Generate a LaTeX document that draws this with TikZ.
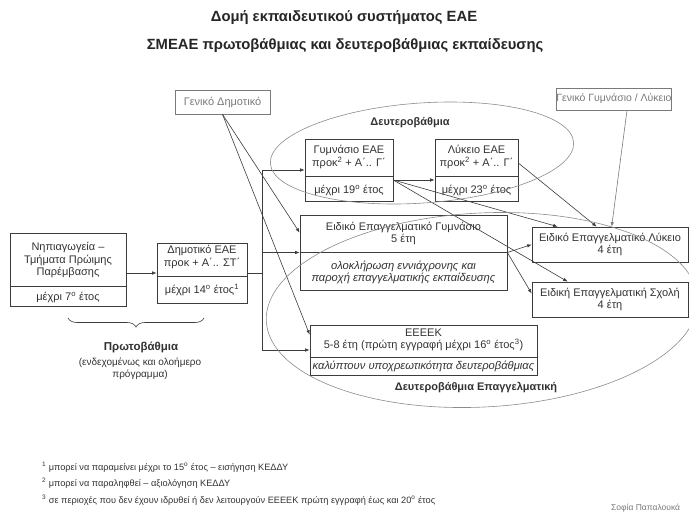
\documentclass[tikz,border=0pt]{standalone}
\usepackage{fontspec}
\setmainfont{Liberation Sans}
\usetikzlibrary{arrows.meta,calc,decorations.pathreplacing}
\definecolor{txt}{HTML}{333333}
\definecolor{ln}{HTML}{3C3C3C}
\definecolor{lgray}{HTML}{7A7A7A}
\definecolor{ellc}{HTML}{8C8C8C}
\begin{document}
\begin{tikzpicture}[x=1pt,y=-1pt,
  box/.style={draw=ln,line width=0.7pt,fill=white,inner sep=0pt},
  gbox/.style={draw=lgray,line width=0.7pt,fill=white,inner sep=0pt,text=lgray,font=\fontsize{10.5}{12}\selectfont},
  lbl/.style={text=txt,font=\fontsize{11}{12.5}\selectfont,align=center,inner sep=0pt},
  ilbl/.style={text=txt,font=\fontsize{11.2}{12}\selectfont\itshape,align=center,inner sep=0pt},
  ttl/.style={text=black!85,font=\fontsize{14.8}{17}\selectfont\bfseries,inner sep=0pt},
  blbl/.style={text=txt,font=\fontsize{11}{13}\selectfont\bfseries,inner sep=0pt},
  fn/.style={text=txt,font=\fontsize{9.2}{11}\selectfont,anchor=west,inner sep=0pt},
  con/.style={draw=ln,line width=0.6pt},
  arr/.style={draw=ln,line width=0.6pt,-{Latex[length=4.5pt,width=3.5pt]}},
  garr/.style={draw=lgray,line width=0.6pt,-{Latex[length=4.5pt,width=3.5pt]}},
  sep/.style={draw=ln,line width=0.7pt},
  ellipsecurve/.style={draw=ellc,line width=0.6pt}
]
\useasboundingbox[fill=white] (0,0) rectangle (689,515);

% titles
\node[ttl] (t1) at (344,18) {Δομή εκπαιδευτικού συστήματος ΕΑΕ};
\node[ttl] (t2) at (345,46) {ΣΜΕΑΕ πρωτοβάθμιας και δευτεροβάθμιας εκπαίδευσης};

% general boxes
\node[gbox,font=\fontsize{11}{12}\selectfont,minimum width=95pt,minimum height=24pt] (gd) at (222.5,102) {Γενικό Δημοτικό};
\node[gbox,minimum width=114pt,minimum height=22pt] (ggl) at (614,99) {Γενικό Γυμνάσιο / Λύκειο};

% boxes
\node[box,minimum width=116pt,minimum height=73pt] (nip) at (68,269.5) {};
\draw[sep] ([yshift=-54pt]nip.north west) -- ([yshift=-54pt]nip.north east);
\node[lbl] (niptxt) at (68,260) {Νηπιαγωγεία –\\Τμήματα Πρώιμης\\Παρέμβασης};
\node[lbl] (nipage) at (68,297) {μέχρι 7\textsuperscript{ο} έτος};

\node[box,minimum width=90pt,minimum height=60pt] (dim) at (202,273) {};
\draw[sep] ([yshift=-34pt]dim.north west) -- ([yshift=-34pt]dim.north east);
\node[lbl] (dimtxt) at (202,257) {Δημοτικό ΕΑΕ\\προκ + Α΄.. ΣΤ΄};
\node[lbl] (dimage) at (202,290) {μέχρι 14\textsuperscript{ο} έτος\textsuperscript{1}};

\node[box,minimum width=88pt,minimum height=62pt] (gym) at (349,170) {};
\draw[sep] ([yshift=-38pt]gym.north west) -- ([yshift=-38pt]gym.north east);
\node[lbl] (gymtxt) at (349,157) {Γυμνάσιο ΕΑΕ\\προκ\textsuperscript{2} + Α΄.. Γ΄};
\node[lbl] (gymage) at (349,190) {μέχρι 19\textsuperscript{ο} έτος};

\node[box,minimum width=83pt,minimum height=62pt] (lyk) at (476.5,170) {};
\draw[sep] ([yshift=-38pt]lyk.north west) -- ([yshift=-38pt]lyk.north east);
\node[lbl] (lyktxt) at (476.5,157) {Λύκειο ΕΑΕ\\προκ\textsuperscript{2} + Α΄.. Γ΄};
\node[lbl] (lykage) at (476.5,190) {μέχρι 23\textsuperscript{ο} έτος};

\node[box,minimum width=207pt,minimum height=75pt] (eeg) at (403.5,252.5) {};
\draw[sep] ([yshift=-38pt]eeg.north west) -- ([yshift=-38pt]eeg.north east);
\node[lbl] (eegtxt) at (403.5,233.5) {Ειδικό Επαγγελματικό Γυμνάσιο\\5 έτη};
\node[ilbl] (eegdesc) at (403.5,272.5) {ολοκλήρωση εννιάχρονης και\\παροχή επαγγελματικής εκπαίδευσης};

\node[box,minimum width=156pt,minimum height=35pt] (eel) at (610,244.5) {};
\node[lbl] (eeltxt) at (610,244.5) {Ειδικό Επαγγελματικό Λύκειο\\4 έτη};

\node[box,minimum width=156pt,minimum height=35pt] (ees) at (610,299.5) {};
\node[lbl] (eestxt) at (610,299.5) {Ειδική Επαγγελματική Σχολή\\4 έτη};

\node[box,minimum width=227pt,minimum height=50pt] (eeeek) at (423.5,350) {};
\draw[sep] ([yshift=-33pt]eeeek.north west) -- ([yshift=-33pt]eeeek.north east);
\node[lbl] (eeeektxt) at (423.5,340) {ΕΕΕΕΚ\\5-8 έτη (πρώτη εγγραφή μέχρι 16\textsuperscript{ο} έτος\textsuperscript{3})};
\node[ilbl] (eeeekdesc) at (423.5,366.5) {καλύπτουν υποχρεωτικότητα δευτεροβάθμιας};

% connectors
\draw[arr] (nip.east |- dim) -- (dim.west);
\coordinate (sp) at (262,273);
\draw[con] (dim.east) -- (sp);
\draw[arr] (sp) |- (gym.west);
\draw[arr] (sp) |- (eeg.west);
\draw[arr] (sp) |- (eeeek.west);

\draw[arr] (gd.south) -- ([yshift=-18pt]eeg.north west);
\draw[arr] (gd.south) -- ([yshift=-10pt]eeeek.north west);

\coordinate (gyo) at ([yshift=-10pt]gym.east);
\draw[arr] (gyo) -- (gyo -| lyk.west);
\draw[arr] (gyo) -- ([xshift=26pt]eel.north west);
\draw[arr] (gyo) -- ([xshift=36pt]ees.north west);
\draw[arr] ([yshift=7pt]lyk.east) -- ([xshift=65pt]eel.north west);
\draw[garr] ([xshift=13pt]ggl.south) -- ([xshift=80pt]eel.north west);
\draw[arr] (eeg.east) -- (eel.west);
\draw[arr] (eeg.east) -- ([yshift=6pt]ees.west);

% ellipses
\draw[ellipsecurve,rotate around={4:(422,153)}] (422,153) ellipse [x radius=152pt,y radius=50pt];
\draw[ellipsecurve,rotate around={3:(482,310)}] (482,310) ellipse [x radius=216pt,y radius=97pt];
\node[blbl] (sec) at (410,123) {Δευτεροβάθμια};
\node[blbl] (secvoc) at (476,388) {Δευτεροβάθμια Επαγγελματική};

% brace
\draw[ln,line width=0.6pt,decorate,decoration={brace,mirror,amplitude=9pt}] (68,318) -- (204,318);
\node[blbl,font=\fontsize{11.5}{13}\selectfont\bfseries] (prim) at (141,347) {Πρωτοβάθμια};
\node[lbl,font=\fontsize{10}{12}\selectfont] (primnote) at (140,369) {(ενδεχομένως και ολοήμερο\\πρόγραμμα)};

% footnotes
\node[fn] (f1) at (42,467) {\textsuperscript{1} μπορεί να παραμείνει μέχρι το 15\textsuperscript{ο} έτος – εισήγηση ΚΕΔΔΥ};
\node[fn] (f2) at (42,483) {\textsuperscript{2} μπορεί να παραληφθεί – αξιολόγηση ΚΕΔΔΥ};
\node[fn] (f3) at (42,500) {\textsuperscript{3} σε περιοχές που δεν έχουν ιδρυθεί ή δεν λειτουργούν ΕΕΕΕΚ πρώτη εγγραφή έως και 20\textsuperscript{ο} έτος};
\node[fn,text=lgray,font=\fontsize{8.5}{10}\selectfont] (sig) at (611,508) {Σοφία Παπαλουκά};
\end{tikzpicture}
\end{document}
